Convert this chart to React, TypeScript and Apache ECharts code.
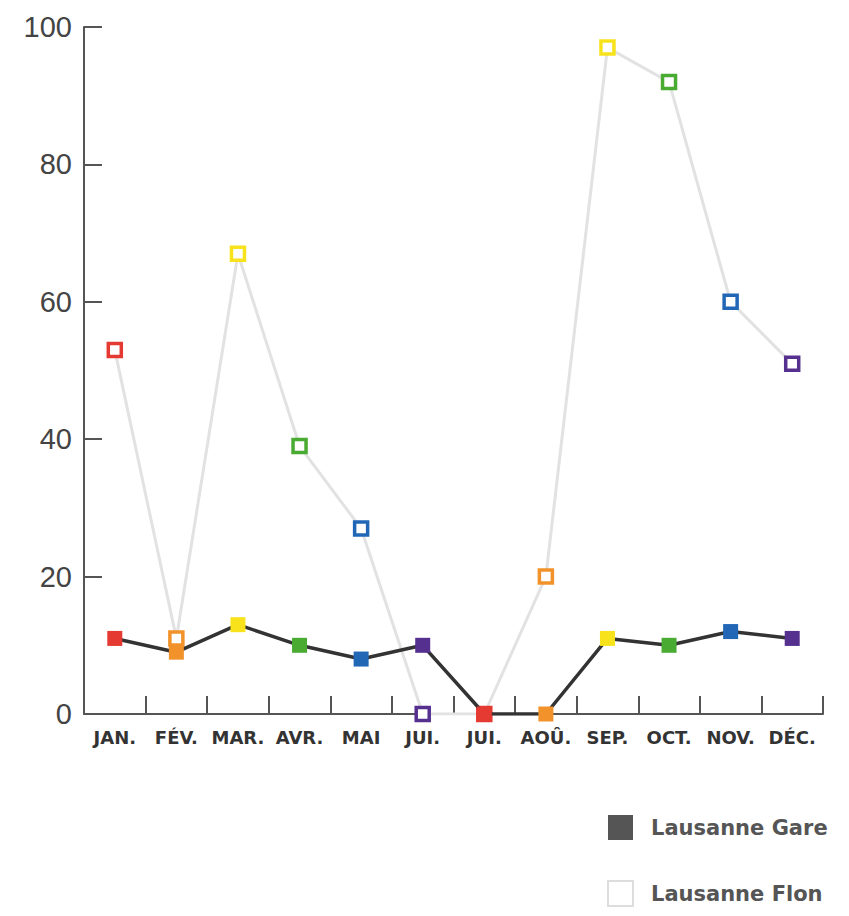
import React, { useEffect, useRef } from "react";
import * as echarts from "echarts";

const months = ["JAN.", "FÉV.", "MAR.", "AVR.", "MAI", "JUI.", "JUI.", "AOÛ.", "SEP.", "OCT.", "NOV.", "DÉC."];
const gareValues = [11, 9, 13, 10, 8, 10, 0, 0, 11, 10, 12, 11];
const flonValues = [53, 11, 67, 39, 27, 0, 0, 20, 97, 92, 60, 51];
const monthColors = ["#e53a32", "#f2922a", "#f8e21c", "#4aab33", "#2167b6", "#55308f", "#e53a32", "#f2922a", "#f8e21c", "#4aab33", "#2167b6", "#55308f"];
const yTicks = [0, 20, 40, 60, 80, 100];

export default function App() {
  const ref = useRef<HTMLDivElement>(null);
  useEffect(() => {
    if (!ref.current) return;
    const chart = echarts.init(ref.current, null, { renderer: "svg" });
    chart.setOption({
      animation: false,
      backgroundColor: "#ffffff",
      grid: { left: 84, right: 26, top: 27, bottom: 202, containLabel: false },
      legend: {
        orient: "vertical",
        left: 607,
        top: 815,
        padding: 0,
        itemWidth: 25,
        itemHeight: 25,
        itemGap: 40,
        icon: "rect",
        textStyle: {
          fontFamily: "DejaVu Sans",
          fontSize: 21,
          fontWeight: "bold",
          color: "#555555",
          padding: [0, 0, 0, 13],
        },
        data: [
          { name: "Lausanne Gare", itemStyle: { color: "#555555", borderWidth: 0 } },
          { name: "Lausanne Flon", itemStyle: { color: "#ffffff", borderColor: "#dddddd", borderWidth: 2 } },
        ],
      },
      xAxis: {
        type: "category",
        data: months,
        boundaryGap: true,
        axisLine: { show: true, lineStyle: { color: "#555555", width: 2 } },
        axisTick: { show: true, inside: true, length: 18, lineStyle: { color: "#555555", width: 2 } },
        axisLabel: {
          margin: 14,
          fontFamily: "DejaVu Sans",
          fontSize: 18,
          fontWeight: "bold",
          color: "#333333",
          interval: 0,
        },
        splitLine: { show: false },
      },
      yAxis: {
        type: "value",
        min: yTicks[0],
        max: yTicks[yTicks.length - 1],
        interval: 20,
        axisLine: { show: true, lineStyle: { color: "#555555", width: 2 } },
        axisTick: { show: true, inside: true, length: 18, lineStyle: { color: "#555555", width: 2 } },
        axisLabel: {
          margin: 12,
          fontFamily: "Liberation Sans",
          fontSize: 29,
          color: "#444444",
        },
        splitLine: { show: false },
      },
      series: [
        {
          name: "Lausanne Flon",
          type: "line",
          z: 2,
          symbol: "rect",
          symbolSize: 13,
          lineStyle: { color: "#e2e2e2", width: 3 },
          itemStyle: { color: "#ffffff", borderColor: "#dddddd", borderWidth: 3.5 },
          data: flonValues.map((v, i) => ({
            value: v,
            itemStyle: { color: "#ffffff", borderColor: monthColors[i], borderWidth: 3.5 },
          })),
        },
        {
          name: "Lausanne Gare",
          type: "line",
          z: 3,
          symbol: "rect",
          symbolSize: 15,
          lineStyle: { color: "#333333", width: 3.5 },
          itemStyle: { color: "#555555" },
          data: gareValues.map((v, i) => ({
            value: v,
            itemStyle: { color: monthColors[i] },
          })),
        },
      ],
    });
    return () => chart.dispose();
  }, []);
  return (
    <div
      ref={ref}
      style={{ position: "fixed", left: 0, top: 0, width: 849, height: 916, background: "#fff" }}
    />
  );
}
